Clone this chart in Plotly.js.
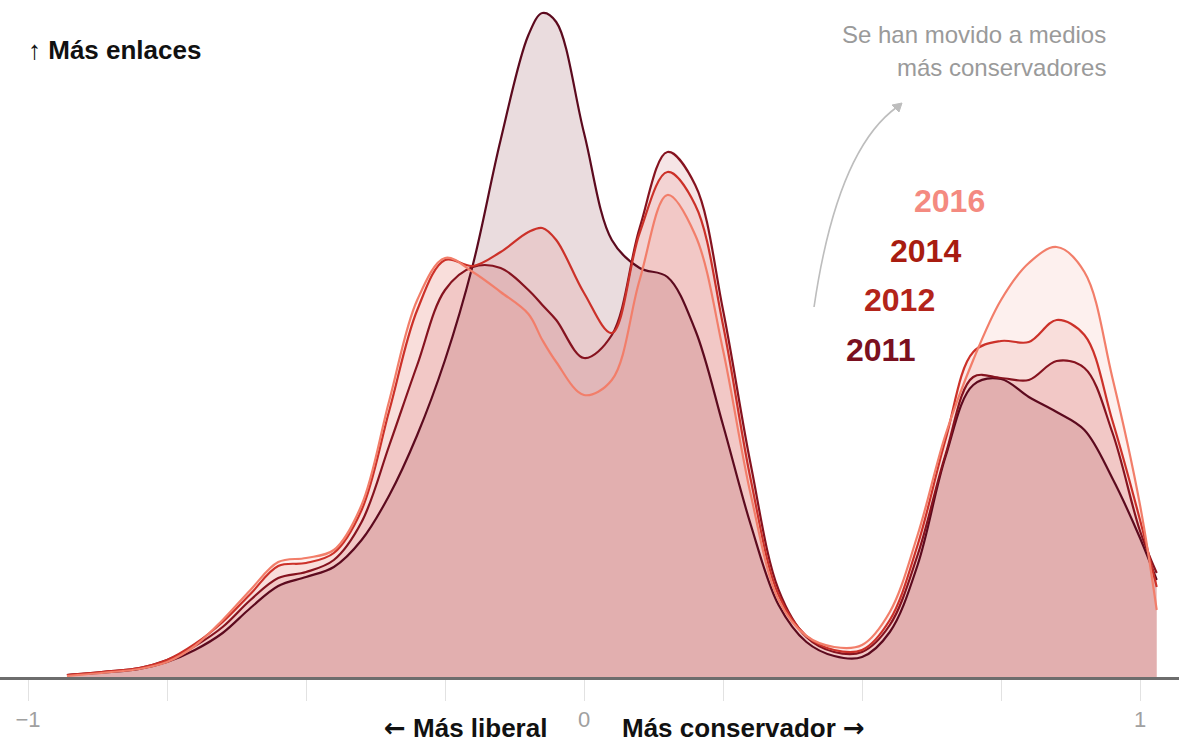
<!DOCTYPE html>
<html>
<head>
<meta charset="utf-8">
<script src="https://cdn.plot.ly/plotly-3.0.1.min.js"></script>
<style>html,body{margin:0;padding:0;background:#fff;}#chart{width:1179px;height:745px;}</style>
</head>
<body>
<div id="chart"></div>
<script>
// Shared ideological score grid (x)
const xScore = [-0.93,-0.85,-0.8,-0.75,-0.7,-0.65,-0.6,-0.55,-0.5,-0.45,-0.4,-0.35,-0.3,-0.25,-0.2,-0.15,-0.1,-0.075,-0.05,0,0.05,0.1,0.15,0.2,0.25,0.3,0.35,0.4,0.45,0.5,0.55,0.6,0.65,0.7,0.75,0.8,0.85,0.9,0.95,1.0,1.03];

// Density of links per year (relative units)
const d2011 = [0.02,0.05,0.08,0.15,0.27,0.44,0.69,0.91,1.00,1.10,1.37,1.82,2.42,3.17,4.12,5.37,6.42,6.64,6.55,5.44,4.37,4.09,4.00,3.47,2.52,1.52,0.72,0.35,0.21,0.20,0.45,1.12,2.20,2.92,2.98,2.80,2.65,2.47,1.99,1.39,0.97];
const d2012 = [0.02,0.06,0.09,0.17,0.31,0.50,0.77,0.99,1.05,1.17,1.55,2.32,3.12,3.87,4.10,4.09,3.87,3.72,3.57,3.19,3.42,4.49,5.25,4.92,3.67,2.12,0.87,0.40,0.25,0.25,0.52,1.22,2.22,3.00,2.99,2.97,3.16,3.09,2.45,1.46,1.04];
const d2014 = [0.02,0.06,0.09,0.17,0.33,0.55,0.83,1.11,1.14,1.24,1.67,2.67,3.67,4.17,4.11,4.25,4.45,4.49,4.37,3.84,3.44,4.44,5.05,4.72,3.52,1.97,0.82,0.41,0.27,0.27,0.57,1.32,2.37,3.25,3.36,3.35,3.57,3.42,2.57,1.57,0.90];
const d2016 = [0.01,0.05,0.08,0.15,0.31,0.57,0.87,1.15,1.19,1.27,1.72,2.77,3.77,4.19,4.05,3.85,3.63,3.37,3.15,2.82,2.97,3.97,4.82,4.42,3.27,1.82,0.77,0.41,0.30,0.32,0.65,1.42,2.42,3.17,3.77,4.14,4.30,4.05,3.00,1.72,0.67];

const years = ['2011','2012','2014','2016'];
const series = [d2011, d2012, d2014, d2016];
const lineColors = ['#5c0a1e','#86131f','#cc3129','#f27e6a'];
const fillColors = ['rgba(150,80,90,0.2)','rgba(180,40,50,0.12)','rgba(220,60,50,0.1)','rgba(235,110,90,0.1)'];
const labelColors = ['#7a1020','#b3241a','#a81c10','#f48a80'];

// Axis ticks
const tickVals = [-1,-0.75,-0.5,-0.25,0,0.25,0.5,0.75,1];
const tickText = ['\u22121','','','','0','','','','1'];

const traces = [];
series.forEach((s,i)=>{
  traces.push({x:xScore,y:s,type:'scatter',mode:'lines',fill:'tozeroy',fillcolor:fillColors[i],
    line:{width:0,shape:'spline',smoothing:1.0,color:lineColors[i]},hoverinfo:'skip',showlegend:false});
});
series.forEach((s,i)=>{
  traces.push({x:xScore,y:s,type:'scatter',mode:'lines',name:years[i],
    line:{width:2.2,shape:'spline',smoothing:1.0,color:lineColors[i]},showlegend:false});
});

const W=1179, H=745, mb=68, plotH=H-mb;
const px = v=>v/W;
const py = v=>(plotH-v)/plotH;
const FONT = 'Liberation Sans, Arial, sans-serif';
const ARW = s=>'<span style="font-family:DejaVu Sans">'+s+'</span>';

const labelPos = [[880,350],[899,300],[925,251],[949,201]];
const annotations = years.map((y,i)=>({text:y,xref:'paper',yref:'paper',x:px(labelPos[i][0]),y:py(labelPos[i][1]),
  xanchor:'center',yanchor:'middle',showarrow:false,font:{family:FONT,size:32,color:labelColors[i],weight:'bold'}}));

annotations.push(
  {text:'\u2191 Más enlaces',xref:'paper',yref:'paper',x:px(26),y:py(50),xanchor:'left',yanchor:'middle',showarrow:false,
   font:{family:FONT,size:26,color:'#111',weight:'bold'}},
  {text:'Se han movido a medios',xref:'paper',yref:'paper',x:px(1108),y:py(35),xanchor:'right',yanchor:'middle',showarrow:false,
   font:{family:FONT,size:24,color:'#9a9a9a'}},
  {text:'más conservadores',xref:'paper',yref:'paper',x:px(1108),y:py(67),xanchor:'right',yanchor:'middle',showarrow:false,
   font:{family:FONT,size:24,color:'#9a9a9a'}},
  {text:ARW('\u2190')+' Más liberal',xref:'paper',yref:'paper',x:px(549),y:py(728),xanchor:'right',yanchor:'middle',showarrow:false,
   font:{family:FONT,size:26,color:'#111',weight:'bold'}},
  {text:'Más conservador '+ARW('\u2192'),xref:'paper',yref:'paper',x:px(620),y:py(728),xanchor:'left',yanchor:'middle',showarrow:false,
   font:{family:FONT,size:26,color:'#111',weight:'bold'}}
);

const shapes = [
  {type:'path',xref:'x',yref:'y',path:'M 0.4137,3.70 Q 0.4550,5.27 0.5630,5.70',line:{color:'#bdbdbd',width:1.6}},
  {type:'path',xref:'x',yref:'y',path:'M 0.5719,5.74 L 0.5540,5.72 L 0.5665,5.65 Z',fillcolor:'#bdbdbd',line:{color:'#bdbdbd',width:1}}
];

const layout = {
  width:W,height:H,margin:{l:0,r:0,t:0,b:mb},
  paper_bgcolor:'#fff',plot_bgcolor:'#fff',
  xaxis:{range:[-1.0504,1.0701],showgrid:false,zeroline:false,showline:true,linecolor:'#6d6d6d',linewidth:3,
    ticks:'outside',ticklen:21,tickcolor:'#e2e2e2',tickwidth:1,tickvals:tickVals,ticktext:tickText,ticklabelstandoff:0,
    tickfont:{family:FONT,size:22,color:'#a0a0a0'},fixedrange:true},
  yaxis:{range:[0,6.77],visible:false,fixedrange:true},
  annotations:annotations,shapes:shapes,showlegend:false
};

Plotly.newPlot('chart',traces,layout,{displayModeBar:false,staticPlot:true});
</script>
</body>
</html>
